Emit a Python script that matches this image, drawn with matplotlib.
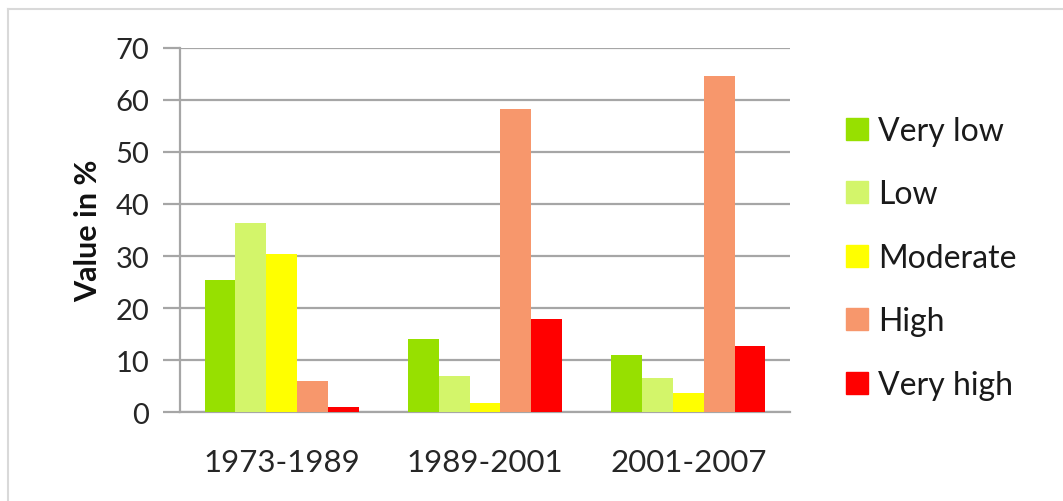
import matplotlib
matplotlib.use("Agg")
import matplotlib.pyplot as plt
import numpy as np
from matplotlib.lines import Line2D

plt.rcParams['font.family'] = ['Lato', 'DejaVu Sans']

periods = ["1973-1989", "1989-2001", "2001-2007"]
classes = ["Very low", "Low", "Moderate", "High", "Very high"]
very_low = [25.4, 14.0, 11.0]
low = [36.3, 7.0, 6.6]
moderate = [30.4, 1.7, 3.7]
high = [6.0, 58.3, 64.6]
very_high = [1.0, 17.9, 12.7]
series = [very_low, low, moderate, high, very_high]
colors = ["#97E000", "#D3F56A", "#FFFF00", "#F7976C", "#FF0000"]
yticks = [0, 10, 20, 30, 40, 50, 60, 70]

W, H = 1063, 502
fig = plt.figure(figsize=(W / 100, H / 100), dpi=100)
ax = fig.add_axes([180 / W, 1 - 413 / H, 610 / W, 364 / H])

x = np.arange(len(periods))
bw = 0.1515
for i, (vals, col) in enumerate(zip(series, colors)):
    ax.bar(x + (i - 2) * bw, vals, width=bw, color=col, label=classes[i],
           zorder=3, linewidth=0)

ax.set_xlim(-0.5, 2.5)
ax.set_ylim(0, 70)
ax.set_yticks(yticks)
ax.set_xticks(x)
ax.set_xticklabels(periods)
ax.yaxis.grid(True, color="#a6a6a6", linewidth=1.6, zorder=0)
for s in ["top", "right"]:
    ax.spines[s].set_visible(False)
ax.spines["left"].set_color("#a6a6a6")
ax.spines["left"].set_linewidth(1.6)
ax.spines["bottom"].set_color("#a6a6a6")
ax.spines["bottom"].set_linewidth(1.6)
ax.tick_params(axis="y", length=12, width=1.6, color="#a6a6a6", pad=10,
               labelsize=21, labelcolor="#262626")
ax.tick_params(axis="x", length=0, pad=26, labelsize=22.5, labelcolor="#262626")
ax.set_ylabel("Value in %", fontsize=22, fontweight="bold", color="#111111",
              labelpad=10)

handles = [Line2D([0], [0], marker="s", linestyle="none", markersize=16,
                  markerfacecolor=c, markeredgecolor=c) for c in colors]
fig.legend(handles, classes, loc="upper left",
           bbox_to_anchor=(811 / W, 1 - 88 / H), frameon=False,
           fontsize=23, labelspacing=1.05, handletextpad=0.1,
           handlelength=1.1, labelcolor="#1a1a1a")

# light frame around the chart area
fig.add_artist(Line2D([8 / W, 8 / W], [0, 1 - 10 / H], transform=fig.transFigure,
                      color="#d9d9d9", linewidth=1.5))
fig.add_artist(Line2D([8 / W, 1], [1 - 10 / H, 1 - 10 / H], transform=fig.transFigure,
                      color="#d9d9d9", linewidth=1.5))

fig.savefig("out.png", dpi=100)
